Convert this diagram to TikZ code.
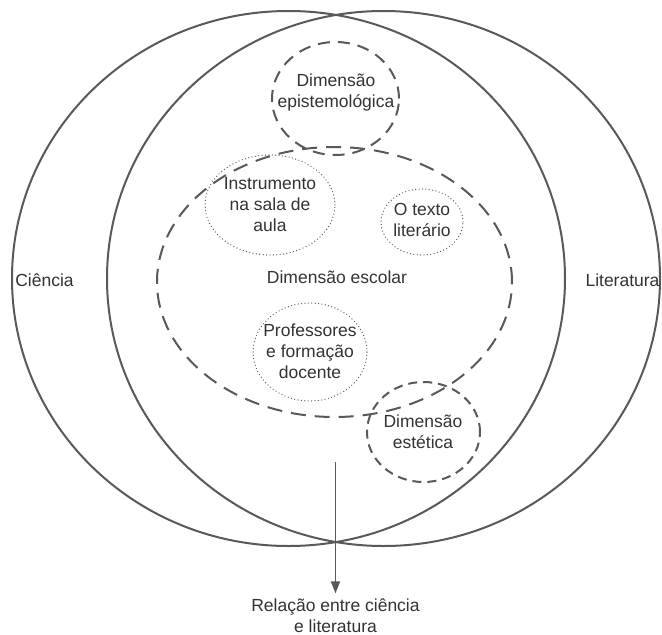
\documentclass[tikz,border=0pt]{standalone}
\usepackage{fontspec}
\setmainfont{Liberation Sans}
\usetikzlibrary{arrows.meta}
\definecolor{linegray}{HTML}{595959}
\definecolor{textgray}{HTML}{333333}
\tikzset{
  bigset/.style={draw=linegray,line width=2pt},
  dimdash/.style={draw=linegray,line width=2pt,dash pattern=on 15pt off 9pt},
  smalldash/.style={draw=linegray,line width=2pt,dash pattern=on 9pt off 6pt},
  topicdot/.style={draw=linegray,line width=1.3pt,dash pattern=on 0pt off 3.4pt,line cap=round},
  lbl/.style={text=textgray,font=\fontsize{17.5}{21}\selectfont,align=center,inner sep=0pt},
}
\begin{document}
\begin{tikzpicture}[x=1pt,y=-1pt]
    \useasboundingbox[fill=white] (0,0) rectangle (662,635);
    % the two big sets
    \draw[bigset] (288.5,278.5) ellipse [x radius=276.5pt,y radius=267.5pt];
    \draw[bigset] (383.5,278.5) ellipse [x radius=276.5pt,y radius=267.5pt];
    % dimensions
    \draw[dimdash,dash pattern=on 12pt off 8pt] (335.5,98.5) ellipse [x radius=63.5pt,y radius=56.5pt];
    \draw[dimdash] (334.5,282) ellipse [x radius=177.5pt,y radius=135pt];
    \draw[smalldash] (423.5,432) ellipse [x radius=56.5pt,y radius=50pt];
    % topics of the school dimension
    \draw[topicdot] (270,205) ellipse [x radius=65pt,y radius=50pt];
    \draw[topicdot] (422,222) ellipse [x radius=41pt,y radius=33pt];
    \draw[topicdot] (310,352) ellipse [x radius=57pt,y radius=49pt];

    \node[lbl] (ciencia) at (44.5,280) {Ciência};
    \node[lbl] (literatura) at (622.5,280) {Literatura};
    \node[lbl] (epistemo) at (336,92) {Dimensão\\epistemológica};
    \node[lbl] (escolar) at (337,277) {Dimensão escolar};
    \node[lbl] (estetica) at (423,431.5) {Dimensão\\estética};
    \node[lbl] (instrumento) at (270,205) {Instrumento\\na sala de\\aula};
    \node[lbl] (texto) at (422,220) {O texto\\literário};
    \node[lbl] (professores) at (310,351) {Professores\\e formação\\docente};
    \node[lbl] (relacao) at (335.5,615.5) {Relação entre ciência\\e literatura};

    \coordinate (arrowtop) at (335.5,462);
    \draw[draw=linegray,line width=1.5pt,-{Triangle[length=12pt,width=9pt]},shorten >=5pt] (arrowtop) -- (relacao.north);
\end{tikzpicture}
\end{document}
